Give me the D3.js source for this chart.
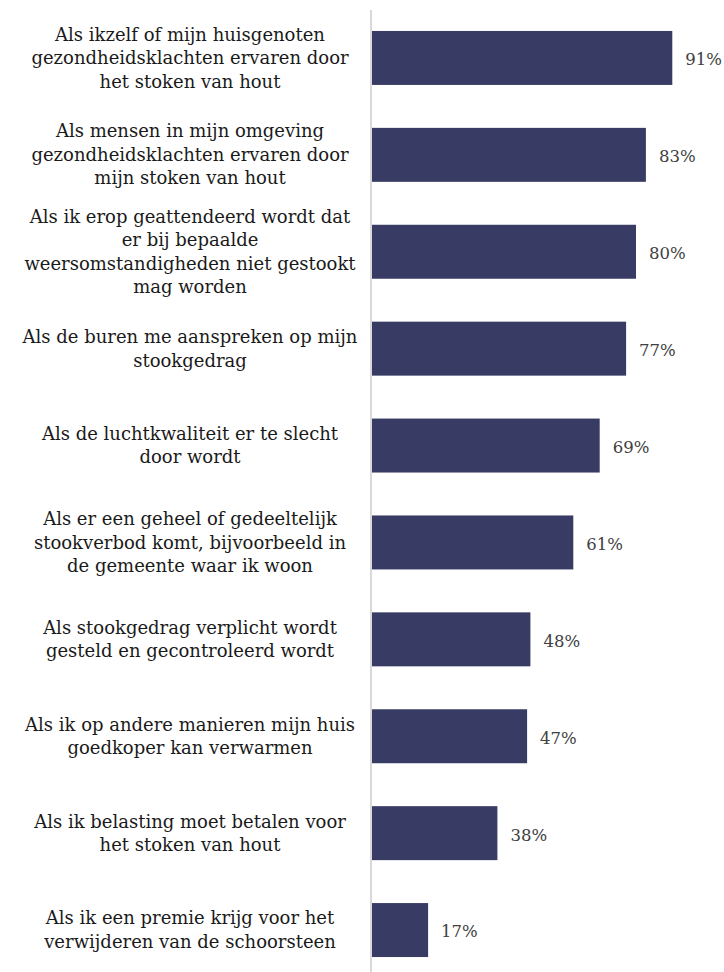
<!DOCTYPE html>
<html lang="nl">
<head>
  <meta charset="UTF-8">
  <title>Stookgedrag</title>
  <script src="https://d3js.org/d3.v7.min.js"></script>
  <style>
    body {
      margin: 0;
      background: #fff;
    }
    .label text {
      font-family: "DejaVu Serif", serif;
      font-size: 18px;
      fill: #1a1a1a;
    }
    .value {
      font-family: "DejaVu Serif", serif;
      font-size: 16.5px;
      fill: #404040;
    }
  </style>
</head>
<body>
<script>
// categories, already split in lines as in the original
const labels = [
  ["Als ikzelf of mijn huisgenoten", "gezondheidsklachten ervaren door", "het stoken van hout"],
  ["Als mensen in mijn omgeving", "gezondheidsklachten ervaren door", "mijn stoken van hout"],
  ["Als ik erop geattendeerd wordt dat", "er bij bepaalde", "weersomstandigheden niet gestookt", "mag worden"],
  ["Als de buren me aanspreken op mijn", "stookgedrag"],
  ["Als de luchtkwaliteit er te slecht", "door wordt"],
  ["Als er een geheel of gedeeltelijk", "stookverbod komt, bijvoorbeeld in", "de gemeente waar ik woon"],
  ["Als stookgedrag verplicht wordt", "gesteld en gecontroleerd wordt"],
  ["Als ik op andere manieren mijn huis", "goedkoper kan verwarmen"],
  ["Als ik belasting moet betalen voor", "het stoken van hout"],
  ["Als ik een premie krijg voor het", "verwijderen van de schoorsteen"]
];
const values = [91, 83, 80, 77, 69, 61, 48, 47, 38, 17];

const width = 724, height = 972;
const axisX = 372;

const svg = d3.select("body").append("svg")
  .attr("width", width)
  .attr("height", height);

const idx = d3.range(values.length);

const y = d3.scaleBand()
  .domain(idx)
  .range([9.5, 978.5])
  .paddingInner(0.443)
  .paddingOuter(0.2215);

const x = d3.scaleLinear()
  .domain([0, 100])
  .range([axisX, axisX + 330]);

// bars
svg.selectAll(".bar")
  .data(idx)
  .enter().append("rect")
  .attr("class", "bar")
  .attr("x", x(0))
  .attr("y", i => y(i))
  .attr("width", i => x(values[i]) - x(0))
  .attr("height", y.bandwidth())
  .attr("fill", "#383b64");

// vertical axis line
svg.append("line")
  .attr("x1", axisX - 1)
  .attr("x2", axisX - 1)
  .attr("y1", 10)
  .attr("y2", height)
  .attr("stroke", "#d9d9d9")
  .attr("stroke-width", 2);

// value labels
svg.selectAll(".value")
  .data(idx)
  .enter().append("text")
  .attr("class", "value")
  .attr("x", i => x(values[i]) + 13)
  .attr("y", i => y(i) + y.bandwidth() / 2)
  .attr("dy", "0.45em")
  .text(i => values[i] + "%");

// category labels
const lineH = 23.5;
const lab = svg.selectAll(".label")
  .data(idx)
  .enter().append("g")
  .attr("class", "label")
  .attr("transform", i => `translate(190,${y(i) + y.bandwidth() / 2})`);

lab.each(function(i) {
  const lines = labels[i];
  const t = d3.select(this).append("text").attr("text-anchor", "middle");
  lines.forEach((l, k) => {
    t.append("tspan")
      .attr("x", 0)
      .attr("y", (k - (lines.length - 1) / 2) * lineH)
      .attr("dy", "0.34em")
      .text(l);
  });
});
</script>
</body>
</html>
